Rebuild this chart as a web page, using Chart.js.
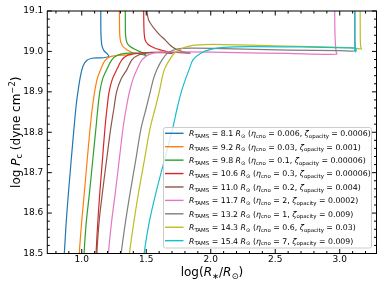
<!DOCTYPE html>
<html>
<head>
<meta charset="utf-8">
<script src="https://cdn.jsdelivr.net/npm/chart.js@4.4.0/dist/chart.umd.min.js"></script>
<style>
  html, body { margin: 0; padding: 0; background: #fff; }
  #graph { display: block; }
</style>
</head>
<body>
<canvas id="graph" width="384" height="288"></canvas>
<script>
// tracks: log(R*/Rsun) and log Pc
const logR_81 = [0.855, 0.865, 0.880, 0.897, 0.918, 0.940, 0.958, 0.975, 0.992, 1.012, 1.040, 1.080, 1.130, 1.180, 1.210, 1.198, 1.172, 1.156, 1.150, 1.148, 1.147];
const logPc_81 = [18.45, 18.50, 18.58, 18.65, 18.73, 18.81, 18.87, 18.91, 18.942, 18.965, 18.978, 18.983, 18.984, 18.985, 18.988, 18.994, 19.002, 19.015, 19.035, 19.06, 19.15];

const logR_92 = [0.975, 0.981, 1.000, 1.020, 1.042, 1.065, 1.082, 1.100, 1.120, 1.148, 1.180, 1.220, 1.280, 1.340, 1.395, 1.385, 1.350, 1.315, 1.298, 1.293, 1.292];
const logPc_92 = [18.45, 18.50, 18.58, 18.65, 18.73, 18.81, 18.86, 18.90, 18.932, 18.956, 18.977, 18.987, 18.990, 18.991, 18.993, 18.998, 19.004, 19.014, 19.03, 19.06, 19.15];

const logR_98 = [1.012, 1.018, 1.036, 1.060, 1.085, 1.110, 1.125, 1.140, 1.162, 1.194, 1.233, 1.280, 1.340, 1.420, 1.500, 1.480, 1.420, 1.375, 1.350, 1.340, 1.338, 1.337];
const logPc_98 = [18.45, 18.50, 18.58, 18.65, 18.73, 18.81, 18.86, 18.90, 18.932, 18.955, 18.979, 18.991, 18.995, 18.996, 18.990, 18.995, 19.004, 19.012, 19.022, 19.04, 19.07, 19.15];

const logR_106 = [1.106, 1.111, 1.125, 1.140, 1.160, 1.180, 1.196, 1.212, 1.238, 1.272, 1.311, 1.360, 1.440, 1.540, 1.640, 1.700, 1.680, 1.620, 1.560, 1.515, 1.490, 1.482, 1.479];
const logPc_106 = [18.45, 18.50, 18.58, 18.65, 18.73, 18.81, 18.86, 18.90, 18.932, 18.955, 18.979, 18.991, 18.996, 18.997, 18.997, 18.995, 18.998, 19.003, 19.009, 19.017, 19.03, 19.06, 19.15];

const logR_110 = [1.112, 1.117, 1.135, 1.160, 1.192, 1.225, 1.250, 1.270, 1.305, 1.350, 1.389, 1.440, 1.520, 1.640, 1.760, 1.840, 1.800, 1.740, 1.690, 1.648, 1.600, 1.570, 1.540, 1.518, 1.505, 1.495];
const logPc_110 = [18.45, 18.50, 18.58, 18.65, 18.73, 18.81, 18.86, 18.90, 18.932, 18.955, 18.979, 18.991, 18.997, 18.998, 18.997, 18.996, 18.998, 19.004, 19.014, 19.028, 19.042, 19.053, 19.066, 19.078, 19.10, 19.13];

const logR_117 = [1.200, 1.207, 1.232, 1.260, 1.290, 1.320, 1.345, 1.370, 1.398, 1.428, 1.467, 1.520, 1.600, 1.800, 2.200, 2.600, 2.977, 2.972, 2.966, 2.962, 2.960];
const logPc_117 = [18.45, 18.50, 18.58, 18.65, 18.73, 18.81, 18.86, 18.90, 18.932, 18.955, 18.979, 18.992, 18.998, 18.999, 18.997, 18.995, 18.993, 18.999, 19.02, 19.06, 19.15];

const logR_132 = [1.298, 1.306, 1.340, 1.375, 1.418, 1.460, 1.500, 1.531, 1.556, 1.583, 1.622, 1.670, 1.740, 1.850, 2.100, 2.600, 3.000, 3.112, 3.120, 3.118, 3.117];
const logPc_132 = [18.45, 18.50, 18.58, 18.65, 18.73, 18.81, 18.86, 18.90, 18.932, 18.955, 18.979, 18.997, 19.006, 19.008, 19.007, 19.003, 19.002, 19.001, 19.004, 19.03, 19.15];

const logR_143 = [1.362, 1.370, 1.405, 1.440, 1.485, 1.530, 1.570, 1.601, 1.620, 1.640, 1.680, 1.720, 1.780, 1.860, 1.950, 2.100, 2.500, 2.850, 3.100, 3.168, 3.162, 3.159, 3.158];
const logPc_143 = [18.45, 18.50, 18.58, 18.65, 18.73, 18.81, 18.86, 18.90, 18.93, 18.955, 18.979, 18.996, 19.008, 19.015, 19.017, 19.017, 19.014, 19.011, 19.009, 19.006, 19.012, 19.04, 19.15];

const logR_154 = [1.474, 1.484, 1.525, 1.575, 1.640, 1.705, 1.740, 1.772, 1.805, 1.832, 1.862, 1.920, 2.000, 2.100, 2.300, 2.700, 3.050, 3.122, 3.128, 3.122, 3.117, 3.116, 3.117];
const logPc_154 = [18.45, 18.50, 18.58, 18.65, 18.73, 18.81, 18.86, 18.90, 18.932, 18.955, 18.979, 18.995, 19.005, 19.010, 19.012, 19.011, 19.009, 19.008, 19.003, 18.999, 19.004, 19.03, 19.15];

const rTams = ['8.1', '9.2', '9.8', '10.6', '11.0', '11.7', '13.2', '14.3', '15.4'];
const etaCno = ['0.006', '0.03', '0.1', '0.3', '0.2', '2', '1', '0.6', '7'];
const zetaOpacity = ['0.0006', '0.001', '0.00006', '0.00006', '0.004', '0.0002', '0.009', '0.03', '0.009'];
const colors = ['#1f77b4', '#ff7f0e', '#2ca02c', '#d62728', '#8c564b', '#e377c2', '#7f7f7f', '#bcbd22', '#17becf'];

const xTicks = [1.0, 1.5, 2.0, 2.5, 3.0];
const yTicks = [18.5, 18.6, 18.7, 18.8, 18.9, 19.0, 19.1];

const tracks = [
  [logR_81, logPc_81], [logR_92, logPc_92], [logR_98, logPc_98],
  [logR_106, logPc_106], [logR_110, logPc_110], [logR_117, logPc_117],
  [logR_132, logPc_132], [logR_143, logPc_143], [logR_154, logPc_154]
];

const FONT = 'DejaVu Sans';

// draw a run of text pieces (italic / sub / sup), returns width
function drawRuns(ctx, x, y, runs, fs, measureOnly) {
  let cx = x;
  runs.forEach(r => {
    let size = fs, dy = 0;
    if (r.sub) { size = fs * 0.7; dy = fs * 0.22; }
    if (r.sup) { size = fs * 0.7; dy = -fs * 0.38; }
    ctx.font = (r.it ? 'italic ' : '') + size + 'px "' + FONT + '"';
    if (!measureOnly) ctx.fillText(r.t, cx, y + dy);
    cx += ctx.measureText(r.t).width;
  });
  return cx - x;
}

const legendPlugin = {
  id: 'texLegend',
  afterDatasetsDraw(chart) {
    const ctx = chart.ctx;
    ctx.save();
    const bx = 163.5, by = 127.5, bw = 208, bh = 120.5;
    ctx.beginPath();
    ctx.roundRect(bx, by, bw, bh, 2);
    ctx.fillStyle = 'rgba(255,255,255,0.8)';
    ctx.fill();
    ctx.strokeStyle = '#cccccc';
    ctx.lineWidth = 1;
    ctx.stroke();
    const fs = 7.8;
    ctx.textBaseline = 'alphabetic';
    ctx.textAlign = 'left';
    rTams.forEach((r, i) => {
      const yy = 133.3 + 13.42 * i;
      ctx.strokeStyle = colors[i];
      ctx.lineWidth = 1.4;
      ctx.beginPath();
      ctx.moveTo(165, yy);
      ctx.lineTo(183.5, yy);
      ctx.stroke();
      ctx.fillStyle = '#000';
      drawRuns(ctx, 189, yy + 2.9, [
        {t: 'R', it: true}, {t: 'TAMS', sub: true}, {t: ' = ' + r + ' '},
        {t: 'R', it: true}, {t: '\u2299', sub: true}, {t: ' ('},
        {t: '\u03b7', it: true}, {t: 'cno', sub: true}, {t: ' = ' + etaCno[i] + ', '},
        {t: '\u03b6', it: true}, {t: 'opacity', sub: true}, {t: ' = ' + zetaOpacity[i] + ')'}
      ], fs);
    });
    ctx.restore();
  }
};

const framePlugin = {
  id: 'frameTicks',
  afterDraw(chart) {
    const ctx = chart.ctx, a = chart.chartArea;
    const xs = chart.scales.x, ys = chart.scales.y;
    ctx.save();
    ctx.strokeStyle = '#000';
    ctx.lineWidth = 1;
    const tick = (x1, y1, x2, y2) => { ctx.beginPath(); ctx.moveTo(x1, y1); ctx.lineTo(x2, y2); ctx.stroke(); };
    const xMinor = [];
    for (let v = 0.8; v < 3.25; v += 0.1) xMinor.push(Math.round(v * 10) / 10);
    const yMinor = [];
    for (let v = 18.52; v < 19.1; v += 0.02) yMinor.push(Math.round(v * 100) / 100);
    xMinor.forEach(v => {
      const p = xs.getPixelForValue(v);
      const L = xTicks.includes(v) ? 4.5 : 2.5;
      tick(p, a.bottom, p, a.bottom - L);
      tick(p, a.top, p, a.top + L);
    });
    yMinor.forEach(v => {
      const p = ys.getPixelForValue(v);
      const L = yTicks.some(t => Math.abs(t - v) < 1e-6) ? 4.5 : 2.5;
      tick(a.left, p, a.left + L, p);
      tick(a.right, p, a.right - L, p);
    });
    ctx.strokeRect(a.left, a.top, a.right - a.left, a.bottom - a.top);

    // axis titles
    ctx.fillStyle = '#000';
    ctx.textBaseline = 'alphabetic';
    const fs = 12;
    const xRuns = [{t: 'log('}, {t: 'R', it: true}, {t: '\u2217', sub: true}, {t: '/'},
      {t: 'R', it: true}, {t: '\u2299', sub: true}, {t: ')'}];
    const wx = drawRuns(ctx, 0, 0, xRuns, fs, true);
    drawRuns(ctx, (a.left + a.right) / 2 - wx / 2, 276, xRuns, fs);
    const yRuns = [{t: 'log '}, {t: 'P', it: true}, {t: 'c', sub: true}, {t: ' (dyne cm'},
      {t: '\u22122', sup: true}, {t: ')'}];
    const wy = drawRuns(ctx, 0, 0, yRuns, fs, true);
    ctx.translate(19.5, (a.top + a.bottom) / 2);
    ctx.rotate(-Math.PI / 2);
    drawRuns(ctx, -wy / 2, 0, yRuns, fs);
    ctx.restore();
  }
};

const datasets = tracks.map((t, i) => ({
  label: rTams[i],
  data: t[0].map((x, j) => ({x: x, y: t[1][j]})),
  borderColor: colors[i],
  backgroundColor: colors[i],
  borderWidth: 1.2,
  pointRadius: 0,
  showLine: true,
  tension: 0.3,
  clip: 0,
  order: tracks.length - i
}));

new Chart(document.getElementById('graph'), {
  type: 'scatter',
  data: { datasets: datasets },
  options: {
    responsive: false,
    animation: false,
    devicePixelRatio: 1,
    layout: { padding: { top: 11, right: 7.5, left: 0, bottom: 0 } },
    plugins: { legend: { display: false }, tooltip: { enabled: false } },
    scales: {
      x: {
        type: 'linear', min: 0.733, max: 3.285,
        grid: { display: false, drawTicks: false },
        border: { display: false },
        afterFit: s => { s.height = 34.5; },
        afterBuildTicks: s => { s.ticks = xTicks.map(v => ({value: v})); },
        ticks: { autoSkip: false, maxRotation: 0, padding: 0.5, color: '#000',
          font: { family: FONT, size: 9 }, callback: v => v.toFixed(1) }
      },
      y: {
        type: 'linear', min: 18.5, max: 19.1,
        grid: { display: false, drawTicks: false },
        border: { display: false },
        afterFit: s => { s.width = 47.3; },
        afterBuildTicks: s => { s.ticks = yTicks.map(v => ({value: v})); },
        ticks: { autoSkip: false, padding: 4, color: '#000',
          font: { family: FONT, size: 9 }, callback: v => v.toFixed(1) }
      }
    }
  },
  plugins: [legendPlugin, framePlugin]
});
</script>
</body>
</html>
